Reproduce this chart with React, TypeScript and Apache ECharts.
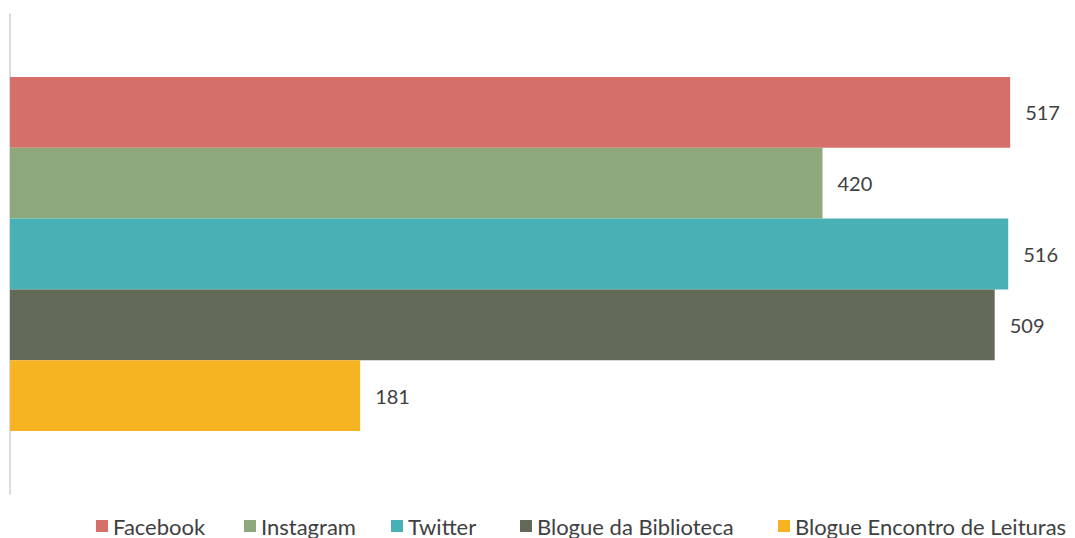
import React, { useEffect, useRef } from "react";
import * as echarts from "echarts";

const categories = ["Total"];
const seriesNames = ["Facebook", "Instagram", "Twitter", "Blogue da Biblioteca", "Blogue Encontro de Leituras"];
const seriesValues = [517, 420, 516, 509, 181];
const seriesColors = ["#D46F6A", "#8DA97C", "#47B1B5", "#646A58", "#F7B422"];
const legendLefts = [96, 244, 391, 520, 778];

export default function App() {
  const ref = useRef<HTMLDivElement>(null);
  useEffect(() => {
    if (!ref.current) return;
    const chart = echarts.init(ref.current, null, { renderer: "svg" });
    const font = "Lato, 'Open Sans', sans-serif";
    chart.setOption({
      animation: false,
      grid: { left: 10, right: 1, top: 14, bottom: 44, containLabel: false },
      xAxis: {
        type: "value",
        min: 0,
        max: 550,
        show: false,
      },
      yAxis: {
        type: "category",
        data: categories,
        inverse: true,
        axisLine: { show: true, lineStyle: { color: "#DCDCDC", width: 2 } },
        axisTick: { show: false },
        axisLabel: { show: false },
      },
      legend: seriesNames.map((n, i) => ({
        data: [n],
        left: legendLefts[i],
        top: 515,
        itemWidth: 12,
        itemHeight: 12,
        itemGap: 0,
        padding: 0,
        icon: "rect",
        selectedMode: false,
        textStyle: { fontFamily: font, fontSize: 22, color: "#404040", padding: [0, 0, 0, 0] },
      })),
      series: seriesNames.map((n, i) => ({
        type: "bar",
        name: n,
        data: [seriesValues[i]],
        barGap: "0%",
        barCategoryGap: "26.25%",
        itemStyle: { color: seriesColors[i] },
        label: {
          show: true,
          position: "right",
          distance: 15,
          fontFamily: font,
          fontSize: 20,
          color: "#404040",
        },
      })),
    });
    return () => chart.dispose();
  }, []);
  return (
    <div
      ref={ref}
      style={{ position: "fixed", left: 0, top: 0, width: 1075, height: 538, background: "#fff" }}
    />
  );
}
